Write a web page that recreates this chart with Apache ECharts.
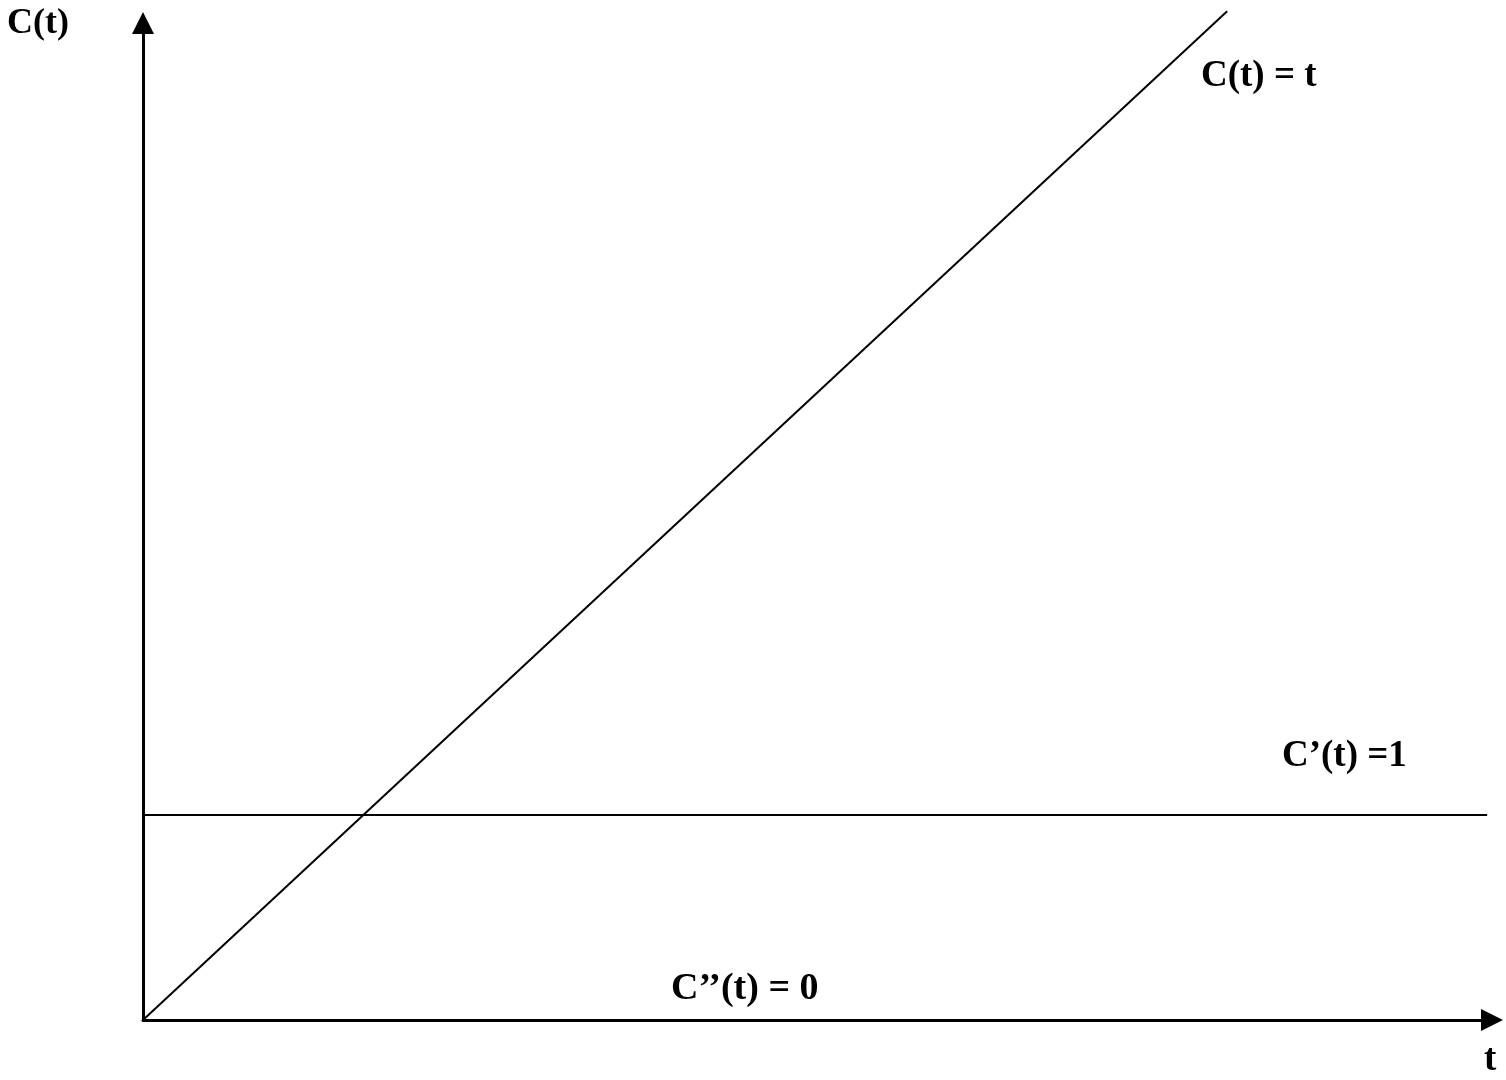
<!DOCTYPE html>
<html>
<head>
<meta charset="utf-8">
<script src="https://cdn.jsdelivr.net/npm/echarts@6/dist/echarts.min.js"></script>
<style>
  html, body { margin: 0; padding: 0; background: #fff; }
  #chart { width: 1506px; height: 1080px; }
</style>
</head>
<body>
<div id="chart"></div>
<script>
// C(t) = t, its first derivative C'(t) = 1 and second derivative C''(t) = 0
var costLine = [[0, 0], [4.92, 4.92]];
var firstDeriv = [[0, 1], [6.1, 1]];
var secondDeriv = [[0, 0], [6.12, 0]];

var font = '"Liberation Serif", "Times New Roman", serif';

var chart = echarts.init(document.getElementById('chart'));

function txt(text, x, y, size) {
  return {
    type: 'text',
    left: x,
    top: y,
    style: { text: text, font: 'bold ' + (size || 37) + 'px ' + font, fill: '#000' }
  };
}

var option = {
  animation: false,
  backgroundColor: '#fff',
  grid: { left: 143, right: 14, top: 23, bottom: 60 },
  xAxis: {
    type: 'value',
    min: 0,
    max: 6.122,
    axisLine: {
      show: true,
      symbol: ['none', 'triangle'],
      symbolSize: [22, 22],
      lineStyle: { color: '#000', width: 3 }
    },
    axisTick: { show: false },
    axisLabel: { show: false },
    splitLine: { show: false }
  },
  yAxis: {
    type: 'value',
    min: 0,
    max: 4.863,
    axisLine: {
      show: true,
      symbol: ['none', 'triangle'],
      symbolSize: [22, 22],
      lineStyle: { color: '#000', width: 3 }
    },
    axisTick: { show: false },
    axisLabel: { show: false },
    splitLine: { show: false }
  },
  series: [
    {
      name: 'C(t) = t',
      type: 'line',
      data: costLine,
      clip: false,
      symbol: 'none',
      lineStyle: { color: '#000', width: 2 }
    },
    {
      name: "C'(t) =1",
      type: 'line',
      data: firstDeriv,
      clip: false,
      symbol: 'none',
      lineStyle: { color: '#000', width: 2 }
    },
    {
      name: "C''(t) = 0",
      type: 'line',
      data: secondDeriv,
      symbol: 'none',
      lineStyle: { width: 0 }
    }
  ],
  graphic: [
    txt('C(t)', 7, 6, 36),
    txt('C(t) = t', 1201, 58),
    txt('C\u2019(t) =1', 1282, 738),
    txt('C\u2019\u2019(t) = 0', 671, 970, 38),
    txt('t', 1484, 1042)
  ]
};

chart.setOption(option);
</script>
</body>
</html>
